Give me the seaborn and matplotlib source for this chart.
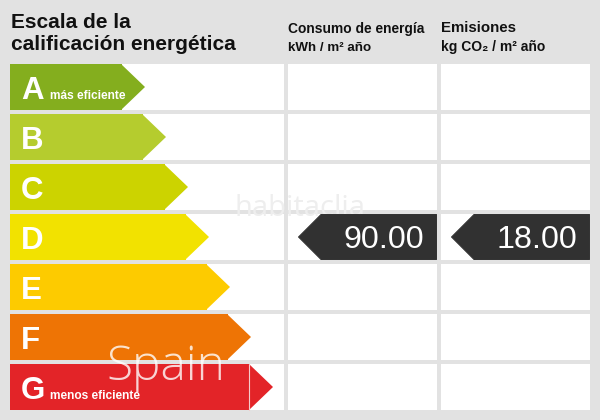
import matplotlib
matplotlib.use("Agg")
import matplotlib.pyplot as plt
from matplotlib.patches import Polygon
import seaborn as sns
import pandas as pd

grades = ["A", "B", "C", "D", "E", "F", "G"]
body_lengths = [112, 133, 155, 176, 197, 218, 240]
colors = ["#84ae1e", "#b5cc2e", "#ccd300", "#f2e200", "#fdcb00", "#ee7405", "#e32428"]
grade_notes = {"A": "más eficiente", "G": "menos eficiente"}
title_lines = ["Escala de la", "calificación energética"]
head_energy = ["Consumo de energía", "kWh / m² año"]
head_emissions = ["Emisiones", "kg CO₂ / m² año"]
values = ["90.00", "18.00"]
rated_grade = "D"

BG = "#e2e2e2"
FONT = "Liberation Sans"
sns.set_theme(style="white")
plt.rcParams["font.family"] = [FONT, "DejaVu Sans"]

fig = plt.figure(figsize=(6, 4.2), dpi=100, facecolor=BG)
ax = fig.add_axes([0, 0, 1, 1], facecolor=BG)

# white table cells
cells = pd.DataFrame({"grade": grades, "w": [580] * 7})
sns.barplot(data=cells, y="grade", x="w", orient="y", color="white", width=0.92,
            saturation=1, linewidth=0, edgecolor="none", ax=ax, zorder=1)
for gutter in (276, 429):
    ax.axvline(gutter, color=BG, lw=2.88, zorder=1.5)

# coloured bars
df = pd.DataFrame({"grade": grades, "length": body_lengths})
sns.barplot(data=df, y="grade", x="length", hue="grade", palette=colors, legend=False,
            orient="y", width=0.92, saturation=1, linewidth=0, edgecolor="none", ax=ax, zorder=2)

ax.set_xlim(-10, 590)
ax.set_ylim(6.66, -1.74)
ax.set_axis_off()


def row_y(px):
    """Figure pixel row to data y."""
    return (px - 87) / 50


tip = 23
h = 0.46
for i, (g, L, c) in enumerate(zip(grades, body_lengths, colors)):
    ax.add_patch(Polygon([(L - 1, i - h), (L + tip, i), (L - 1, i + h)], closed=True,
                         facecolor=c, edgecolor="none", zorder=2))
    ax.text(11, i + 0.24, g, color="white", fontsize=22.5, fontweight="bold",
            ha="left", va="baseline", zorder=3)
    if g in grade_notes:
        ax.text(39.5, i + 0.246, grade_notes[g], color="white", fontsize=8.6, fontweight="bold",
                ha="left", va="baseline", zorder=3)

# thin white seam on the last bar
ax.plot([body_lengths[-1] - 1] * 2, [6 - h, 6 + h], color="#f6c9c9", lw=0.8, zorder=2.5)

# title
for txt, py in zip(title_lines, [28, 50]):
    ax.text(1, row_y(py), txt, color="#111111", fontsize=15, fontweight="bold",
            ha="left", va="baseline", zorder=3)

# column headers
ax.text(278, row_y(33), head_energy[0], color="#111111", fontsize=9.95, fontweight="bold",
        ha="left", va="baseline", zorder=3)
ax.text(278, row_y(51), head_energy[1], color="#111111", fontsize=9.6, fontweight="bold",
        ha="left", va="baseline", zorder=3)
ax.text(431, row_y(32), head_emissions[0], color="#111111", fontsize=10.8, fontweight="bold",
        ha="left", va="baseline", zorder=3)
ax.text(431, row_y(51), head_emissions[1], color="#111111", fontsize=10, fontweight="bold",
        ha="left", va="baseline", zorder=3)

# watermark under the tags
ax.text(290, row_y(216), "habitaclia", color="#eeeeee", fontsize=21, family="Open Sans",
        ha="center", va="baseline", zorder=2.8)

# value tags
row = grades.index(rated_grade)
for value, left in zip(values, [278, 431]):
    right = left + 149
    ax.add_patch(Polygon([(right - 0.5, row - h + 0.01), (left + 33, row - h + 0.01), (left + 10.5, row),
                          (left + 33, row + h - 0.01), (right - 0.5, row + h - 0.01)], closed=True,
                         facecolor="#313131", edgecolor="#313131", lw=0.7, joinstyle="round", zorder=3))
    ax.text(right - 12.5, row_y(248.5), value, color="white", fontsize=23.2,
            ha="right", va="baseline", zorder=4)

# watermark over the bars
ax.text(96, row_y(380), "Spain", color="white", alpha=0.8, fontsize=34.5, family="Open Sans",
        fontweight="light", ha="left", va="baseline", zorder=5)

fig.savefig("out.png", dpi=100, facecolor=BG)
